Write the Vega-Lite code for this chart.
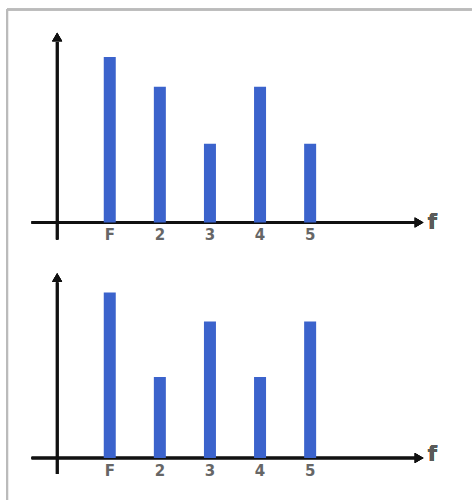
{
  "$schema": "https://vega.github.io/schema/vega-lite/v6.json",
  "width": 473,
  "height": 501,
  "padding": 0,
  "autosize": {"type": "fit", "contains": "padding"},
  "background": "white",
  "config": {"view": {"stroke": null}, "scale": {"continuousPadding": 0}},
  "datasets": {
    "top": [
      {"label": "F", "k": 1, "a": 1.0},
      {"label": "2", "k": 2, "a": 0.82},
      {"label": "3", "k": 3, "a": 0.476},
      {"label": "4", "k": 4, "a": 0.82},
      {"label": "5", "k": 5, "a": 0.476}
    ],
    "bottom": [
      {"label": "F", "k": 1, "a": 1.0},
      {"label": "2", "k": 2, "a": 0.49},
      {"label": "3", "k": 3, "a": 0.825},
      {"label": "4", "k": 4, "a": 0.49},
      {"label": "5", "k": 5, "a": 0.825}
    ]
  },
  "resolve": {"scale": {"y": "independent"}},
  "layer": [
    {
      "data": {"name": "top"},
      "layer": [
        {
          "mark": {"type": "rule", "stroke": "#bbbbbb", "strokeWidth": 2},
          "encoding": {
            "x": {"datum": -1.05, "type": "quantitative", "scale": {"domain": [-1.191, 8.231], "nice": false, "zero": false, "padding": 0}, "axis": null},
            "y": {"datum": 1.286, "type": "quantitative", "scale": {"domain": [-1.6747, 1.3434], "nice": false, "zero": false}, "axis": null},
            "y2": {"datum": -1.6747}
          }
        },
        {
          "mark": {"type": "rule", "stroke": "#bbbbbb", "strokeWidth": 2},
          "encoding": {
            "x": {"datum": -1.05, "type": "quantitative", "scale": {"domain": [-1.191, 8.231], "nice": false, "zero": false, "padding": 0}, "axis": null},
            "x2": {"datum": 8.225},
            "y": {"datum": 1.286, "type": "quantitative", "scale": {"domain": [-1.6747, 1.3434], "nice": false, "zero": false}, "axis": null}
          }
        },
        {
          "mark": {"type": "rule", "stroke": "#111111", "strokeWidth": 2.5},
          "encoding": {
            "x": {"datum": -0.05, "type": "quantitative", "scale": {"domain": [-1.191, 8.231], "nice": false, "zero": false, "padding": 0}, "axis": null},
            "y": {"datum": -0.102, "type": "quantitative", "scale": {"domain": [-1.6747, 1.3434], "nice": false, "zero": false}, "axis": null},
            "y2": {"datum": 1.09}
          }
        },
        {
          "mark": {"type": "point", "shape": "triangle-up", "filled": true, "color": "#111111", "opacity": 1, "size": 100},
          "encoding": {
            "x": {"datum": -0.05, "type": "quantitative", "scale": {"domain": [-1.191, 8.231], "nice": false, "zero": false, "padding": 0}, "axis": null},
            "y": {"datum": 1.12, "type": "quantitative", "scale": {"domain": [-1.6747, 1.3434], "nice": false, "zero": false}, "axis": null}
          }
        },
        {
          "mark": {"type": "rule", "stroke": "#111111", "strokeWidth": 2.5},
          "encoding": {
            "x": {"datum": -0.56, "type": "quantitative", "scale": {"domain": [-1.191, 8.231], "nice": false, "zero": false, "padding": 0}, "axis": null},
            "x2": {"datum": 7.1},
            "y": {"datum": 0, "type": "quantitative", "scale": {"domain": [-1.6747, 1.3434], "nice": false, "zero": false}, "axis": null}
          }
        },
        {
          "mark": {"type": "point", "shape": "triangle-right", "filled": true, "color": "#111111", "opacity": 1, "size": 100},
          "encoding": {
            "x": {"datum": 7.175, "type": "quantitative", "scale": {"domain": [-1.191, 8.231], "nice": false, "zero": false, "padding": 0}, "axis": null},
            "y": {"datum": 0, "type": "quantitative", "scale": {"domain": [-1.6747, 1.3434], "nice": false, "zero": false}, "axis": null}
          }
        },
        {
          "mark": {"type": "text", "text": "f", "fontSize": 21, "font": "DejaVu Sans", "fontWeight": "bold", "color": "#5a5a5a", "align": "center", "baseline": "alphabetic"},
          "encoding": {
            "x": {"datum": 7.44, "type": "quantitative", "scale": {"domain": [-1.191, 8.231], "nice": false, "zero": false, "padding": 0}, "axis": null},
            "y": {"datum": -0.04, "type": "quantitative", "scale": {"domain": [-1.6747, 1.3434], "nice": false, "zero": false}, "axis": null}
          }
        },
        {
          "mark": {"type": "bar", "color": "#3b63cc", "size": 12},
          "encoding": {
            "x": {"field": "k", "type": "quantitative", "scale": {"domain": [-1.191, 8.231], "nice": false, "zero": false, "padding": 0}, "axis": null},
            "y": {"field": "a", "type": "quantitative", "scale": {"domain": [-1.6747, 1.3434], "nice": false, "zero": false}, "axis": null},
            "y2": {"datum": 0}
          }
        },
        {
          "mark": {"type": "text", "fontSize": 15, "font": "DejaVu Sans", "fontWeight": "bold", "color": "#666666", "align": "center", "baseline": "middle"},
          "encoding": {
            "x": {"field": "k", "type": "quantitative", "scale": {"domain": [-1.191, 8.231], "nice": false, "zero": false, "padding": 0}, "axis": null},
            "y": {"datum": -0.078, "type": "quantitative", "scale": {"domain": [-1.6747, 1.3434], "nice": false, "zero": false}, "axis": null},
            "text": {"field": "label", "type": "nominal"}
          }
        }
      ]
    },
    {
      "data": {"name": "bottom"},
      "layer": [
        {
          "mark": {"type": "rule", "stroke": "#111111", "strokeWidth": 2.5},
          "encoding": {
            "x": {"datum": -0.05, "type": "quantitative", "scale": {"domain": [-1.191, 8.231], "nice": false, "zero": false, "padding": 0}, "axis": null},
            "y": {"datum": -0.096, "type": "quantitative", "scale": {"domain": [-0.253, 2.765], "nice": false, "zero": false}, "axis": null},
            "y2": {"datum": 1.06}
          }
        },
        {
          "mark": {"type": "point", "shape": "triangle-up", "filled": true, "color": "#111111", "opacity": 1, "size": 100},
          "encoding": {
            "x": {"datum": -0.05, "type": "quantitative", "scale": {"domain": [-1.191, 8.231], "nice": false, "zero": false, "padding": 0}, "axis": null},
            "y": {"datum": 1.09, "type": "quantitative", "scale": {"domain": [-0.253, 2.765], "nice": false, "zero": false}, "axis": null}
          }
        },
        {
          "mark": {"type": "rule", "stroke": "#111111", "strokeWidth": 2.5},
          "encoding": {
            "x": {"datum": -0.56, "type": "quantitative", "scale": {"domain": [-1.191, 8.231], "nice": false, "zero": false, "padding": 0}, "axis": null},
            "x2": {"datum": 7.1},
            "y": {"datum": 0, "type": "quantitative", "scale": {"domain": [-0.253, 2.765], "nice": false, "zero": false}, "axis": null}
          }
        },
        {
          "mark": {"type": "point", "shape": "triangle-right", "filled": true, "color": "#111111", "opacity": 1, "size": 100},
          "encoding": {
            "x": {"datum": 7.175, "type": "quantitative", "scale": {"domain": [-1.191, 8.231], "nice": false, "zero": false, "padding": 0}, "axis": null},
            "y": {"datum": 0, "type": "quantitative", "scale": {"domain": [-0.253, 2.765], "nice": false, "zero": false}, "axis": null}
          }
        },
        {
          "mark": {"type": "text", "text": "f", "fontSize": 21, "font": "DejaVu Sans", "fontWeight": "bold", "color": "#5a5a5a", "align": "center", "baseline": "alphabetic"},
          "encoding": {
            "x": {"datum": 7.44, "type": "quantitative", "scale": {"domain": [-1.191, 8.231], "nice": false, "zero": false, "padding": 0}, "axis": null},
            "y": {"datum": -0.02, "type": "quantitative", "scale": {"domain": [-0.253, 2.765], "nice": false, "zero": false}, "axis": null}
          }
        },
        {
          "mark": {"type": "bar", "color": "#3b63cc", "size": 12},
          "encoding": {
            "x": {"field": "k", "type": "quantitative", "scale": {"domain": [-1.191, 8.231], "nice": false, "zero": false, "padding": 0}, "axis": null},
            "y": {"field": "a", "type": "quantitative", "scale": {"domain": [-0.253, 2.765], "nice": false, "zero": false}, "axis": null},
            "y2": {"datum": 0}
          }
        },
        {
          "mark": {"type": "text", "fontSize": 15, "font": "DejaVu Sans", "fontWeight": "bold", "color": "#666666", "align": "center", "baseline": "middle"},
          "encoding": {
            "x": {"field": "k", "type": "quantitative", "scale": {"domain": [-1.191, 8.231], "nice": false, "zero": false, "padding": 0}, "axis": null},
            "y": {"datum": -0.078, "type": "quantitative", "scale": {"domain": [-0.253, 2.765], "nice": false, "zero": false}, "axis": null},
            "text": {"field": "label", "type": "nominal"}
          }
        }
      ]
    }
  ]
}
